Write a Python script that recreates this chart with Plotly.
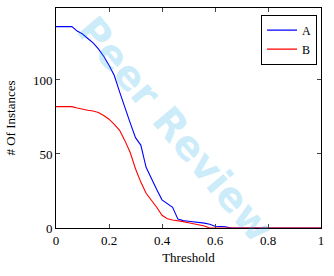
import plotly.graph_objects as go

thresholds = [round(i * 0.02, 2) for i in range(51)]
series_a = [136, 136, 136, 136, 133, 131, 128, 125, 121, 116,
            110, 103, 92, 81, 71, 61, 56, 41, 33, 26,
            19, 16.5, 14, 6, 5, 4.6, 4.3, 4, 3.3, 2.5,
            1.2, 1, 0.8, 0, 0, 0, 0, 0, 0, 0,
            0, 0, 0, 0, 0, 0, 0, 0, 0, 0, 0]
series_b = [82, 82, 82, 82, 81, 80, 79.5, 79, 78, 76,
            73.5, 70, 66, 59, 51, 40, 31, 23.5, 19, 14,
            8.6, 6.3, 5.4, 5, 4.3, 3.6, 2.9, 2.2, 1.3, 0,
            0, 0, 0, 0, 0, 0, 0, 0, 0, 0,
            0, 0, 0, 0, 0, 0, 0, 0, 0, 0, 0]
x_ticks = [0, 0.2, 0.4, 0.6, 0.8, 1]
x_tick_labels = ["0", "0.2", "0.4", "0.6", "0.8", "1"]
y_ticks = [0, 50, 100]
y_tick_labels = ["0", "50", "100"]

font_family = "Liberation Serif, DejaVu Serif, serif"

fig = go.Figure()
fig.add_trace(go.Scatter(x=thresholds, y=series_a, mode="lines", name="A",
                         line=dict(color="#0000ff", width=1.1)))
fig.add_trace(go.Scatter(x=thresholds, y=series_b, mode="lines", name="B",
                         line=dict(color="#ff0000", width=1.1)))

axis_common = dict(showgrid=False, zeroline=False, showline=True, linecolor="black",
                   linewidth=1, mirror="ticks", ticks="inside", ticklen=4,
                   tickcolor="#444", tickfont=dict(family=font_family, size=13, color="black"))

fig.update_layout(
    width=334, height=276,
    margin=dict(l=56, r=13, t=8, b=48),
    paper_bgcolor="white", plot_bgcolor="white",
    font=dict(family=font_family, size=13, color="black"),
    xaxis=dict(range=[0, 1], tickvals=x_ticks, ticktext=x_tick_labels,
               title=dict(text="Threshold", font=dict(family=font_family, size=13), standoff=6),
               **axis_common),
    yaxis=dict(range=[0, 148.6], tickvals=y_ticks, ticktext=y_tick_labels,
               title=dict(text="# Of Instances", font=dict(family=font_family, size=13), standoff=14),
               **axis_common),
    legend=dict(x=0.985, y=0.97, xanchor="right", yanchor="top",
                bordercolor="black", borderwidth=1, bgcolor="white",
                font=dict(family=font_family, size=12),
                tracegroupgap=0, itemwidth=30),
    showlegend=True,
)

fig.add_annotation(text="<b>Peer Review</b>", xref="paper", yref="paper",
                   x=0.45, y=0.45, showarrow=False, textangle=50,
                   font=dict(family="DejaVu Sans, sans-serif", size=40,
                             color="rgba(30,170,235,0.22)"))

fig.write_html("out.html")
